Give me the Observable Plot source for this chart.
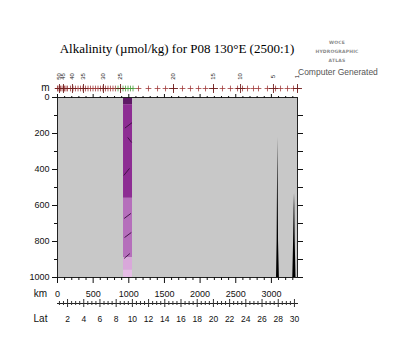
<!DOCTYPE html>
<html><head><meta charset="utf-8">
<script src="https://cdn.jsdelivr.net/npm/d3@7"></script>
<script src="https://cdn.jsdelivr.net/npm/@observablehq/plot@0.6"></script>
<style>
body{margin:0;background:#fff;width:400px;height:350px;position:relative;overflow:hidden;font-family:"Liberation Sans",Arial,sans-serif}
#chart{position:absolute;left:0;top:0}
#lat{position:absolute;left:0;top:290px}
.t{position:absolute;white-space:nowrap}
#title{left:177px;top:42px;transform:translateX(-50%);font-family:"Liberation Serif","DejaVu Serif",serif;font-size:13px;line-height:13px;color:#000}
.logo{left:337px;transform:translateX(-50%);font-family:"DejaVu Sans",sans-serif;font-weight:bold;font-size:4.5px;color:#8a8a8a;letter-spacing:0.2px}
#cg{left:298px;top:67px;font-size:8.5px;color:#555}
</style></head><body>
<div id="chart"></div><div id="lat"></div>
<div class="t" id="title">Alkalinity (µmol/kg) for P08 130°E (2500:1)</div>
<div class="t logo" style="top:40px">WOCE</div>
<div class="t logo" style="top:49px">HYDROGRAPHIC</div>
<div class="t logo" style="top:58px">ATLAS</div>
<div class="t" id="cg">Computer Generated</div>
<script>
// ---- data ----
const stationKm = [0,7,28,42,63,84,98,119,140,182,217,252,288,323,358,393,428,463,498,533,568,603,638,673,708,743,778,813,1136,1276,1403,1515,1627,1753,1865,1978,2076,2188,2314,2426,2525,2595,2665,2749,2819,2945,3058,3128,3226,3310,3366];
const dataStationKm = [849,884,919,954,989,1024,1059];
const labelKm = [28,84,210,365,645,884,1627,2188,2567,3029,3366];
const labelText = ["50","45","40","35","30","25","20","15","10","5","1"];

const colLeft = 926, colRight = 1052;
const bandTop = [0,40,560,890,960];
const bandBottom = [40,560,890,960,1000];
const bandValue = [2290,2300,2310,2320,2330];

const contourKmA = [945,985,930,935,940,935];
const contourDA  = [170,222,433,672,778,894];
const contourKmB = [1045,1040,1010,1030,1035,1015];
const contourDB  = [140,250,394,644,750,867];

const bottomKm    = [3072,3080,3087,3090,3094,3100,3112, 3300,3310,3318,3324,3328,3334,3345];
const bottomDepth = [1000,800,400,222,400,800,1000, 1000,820,620,533,600,800,1000];

const depthTicks = [0,200,400,600,800,1000];
const depthMinor = [100,300,500,700,900];
const depthRight = [100,200,300,400,500,600,700,800,900,1000];
const kmTicks = [0,500,1000,1500,2000,2500,3000];
const kmMinor = [100,200,300,400,600,700,800,900,1100,1200,1300,1400,1600,1700,1800,1900,2100,2200,2300,2400,2600,2700,2800,2900,3100,3200,3300];
const latTicks = [2,4,6,8,10,12,14,16,18,20,22,24,26,28,30];
const latMinor = [1,1.5,2.5,3,3.5,4.5,5,5.5,6.5,7,7.5,8.5,9,9.5,10.5,11,11.5,12.5,13,13.5,14.5,15,15.5,16.5,17,17.5,18.5,19,19.5,20.5,21,21.5,22.5,23,23.5,24.5,25,25.5,26.5,27,27.5,28.5,29,29.5];

// ---- tables ----
const bands = bandValue.map((v,i)=>({v, top:bandTop[i], bot:bandBottom[i]}));
const contours = contourKmA.map((k,i)=>({x1:k,y1:contourDA[i],x2:contourKmB[i],y2:contourDB[i]}));
const bottom = bottomKm.map((k,i)=>({km:k, d:bottomDepth[i], g: k<3200?0:1}));
const labels = labelKm.map((k,i)=>({km:k, t:labelText[i]}));
const fmt = d => String(d);

const font = {fontFamily:"Liberation Sans, Arial, sans-serif", fontSize:"9px", color:"#111", background:"transparent", overflow:"visible"};

const main = Plot.plot({
  width:400, height:300,
  marginLeft:57, marginRight:103, marginTop:97, marginBottom:23,
  x:{domain:[0,3366]},
  y:{domain:[0,1000], reverse:true},
  color:{type:"ordinal", domain:bandValue, range:["#5e1a66","#8d2d93","#b56fbb","#d9a8da","#e6bce6"]},
  style: font,
  marks:[
    Plot.frame({fill:"#c8c8c8", stroke:"none"}),
    Plot.rect(bands, {x1:()=>colLeft, x2:()=>colRight, y1:"top", y2:"bot", fill:"v"}),
    Plot.link(contours, {x1:"x1", y1:"y1", x2:"x2", y2:"y2", stroke:"#3a0c40", strokeWidth:0.9}),
    Plot.areaY(bottom, {x:"km", y1:()=>1000, y2:"d", z:"g", fill:"black", curve:"linear"}),
    Plot.frame({stroke:"#222", strokeWidth:1}),
    Plot.axisY(depthTicks, {anchor:"left", tickSize:5, tickPadding:3, label:null, fontSize:9, tickFormat:fmt}),
    Plot.axisY(depthMinor, {anchor:"left", tickSize:3, fill:"none", label:null}),
    Plot.axisY(depthRight, {anchor:"right", tickSize:5, fill:"none", label:null}),
    Plot.axisX(kmMinor, {anchor:"top", tickSize:2, fill:"none", label:null}),
    Plot.axisX(kmTicks, {anchor:"top", tickSize:4, fill:"none", label:null}),
    Plot.axisX(kmMinor, {anchor:"bottom", tickSize:3, fill:"none", label:null}),
    Plot.axisX(kmTicks, {anchor:"bottom", tickSize:6, tickPadding:7, label:null, fontSize:9, tickFormat:fmt}),
    Plot.dot(stationKm, {x:d=>d, frameAnchor:"top", dy:-9, symbol:"plus", r:2, stroke:"#a03a3a", strokeWidth:0.8}),
    Plot.dot(dataStationKm, {x:d=>d, frameAnchor:"top", dy:-9, symbol:"plus", r:2, stroke:"#4a9a3a", strokeWidth:0.8}),
    Plot.dot(labelKm, {x:d=>d, frameAnchor:"top", dy:-9, symbol:"plus", r:3, stroke:"#702020", strokeWidth:0.9}),
    Plot.text(labels, {x:"km", text:"t", frameAnchor:"top", dy:-21, rotate:-90, lineAnchor:"middle", textAnchor:"middle", fontSize:6, fill:"#222"}),
    Plot.text(["m"], {frameAnchor:"top-left", dx:-12, dy:-10, lineAnchor:"middle", textAnchor:"middle", fontSize:10, fill:"#111"}),
    Plot.text(["km"], {frameAnchor:"bottom-left", dx:-17, dy:16, lineAnchor:"middle", textAnchor:"middle", fontSize:10, fill:"#111"})
  ]
});
document.getElementById("chart").append(main);

const lat = Plot.plot({
  width:400, height:50,
  marginLeft:57, marginRight:102, marginTop:9, marginBottom:33,
  x:{domain:[0.76,30.5]},
  y:{domain:[0,1], axis:null},
  style: font,
  marks:[
    Plot.ruleY([0.5], {stroke:"#222"}),
    Plot.tickX(latMinor, {x:d=>d, stroke:"#333", insetTop:2, insetBottom:2}),
    Plot.tickX(latTicks, {x:d=>d, stroke:"#333"}),
    Plot.axisX(latTicks, {anchor:"bottom", tickSize:0, tickPadding:8, label:null, fontSize:8.5, tickFormat:fmt}),
    Plot.text(["Lat"], {frameAnchor:"bottom-left", dx:-17, dy:11, lineAnchor:"middle", textAnchor:"middle", fontSize:10, fill:"#111"})
  ]
});
document.getElementById("lat").append(lat);
</script>
</body></html>
